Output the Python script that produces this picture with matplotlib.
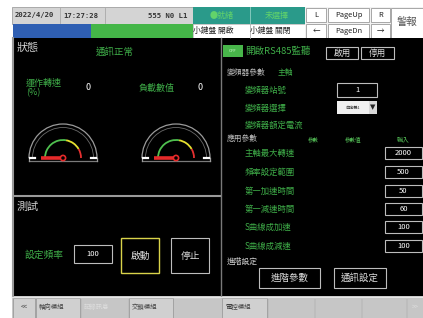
import numpy as np
import matplotlib
matplotlib.use("Agg")
import matplotlib.pyplot as plt
from matplotlib.patches import Rectangle, Arc, Circle

plt.rcParams['font.family'] = ['Noto Sans CJK TC', 'DejaVu Sans']

# ---- screen data ----
status_date = "2022/4/20"
status_time = "17:27:28"
status_code = "555 N0 L1"
comm_state = "通訊正常"
gauge_labels = ["運作轉速\n(%)", "負載數值"]
gauge_values = [0, 0]
drive_labels = ["變頻器站號", "變頻器選擇", "變頻器額定電流"]
drive_station = 1
param_labels = ["主軸最大轉速", "頻率設定範圍", "第一加速時間",
                "第一減速時間", "S曲線成加速", "S曲線成減速"]
param_values = [2000, 500, 50, 60, 100, 100]
test_freq = 100
nav_buttons = ["<<", "軸向模組", "記錄訊息", "交鎖模組", "電控模組", "", "", "", ">>"]
nav_enabled = [True, True, False, True, True, False, False, False, False]

W, H = 423, 318
GREEN = "#3fae49"
LGREEN = "#57c75a"

fig = plt.figure(figsize=(W / 100, H / 100), dpi=100)
ax = fig.add_axes([0, 0, 1, 1])
ax.set_xlim(0, W)
ax.set_ylim(H, 0)   # screen coords, y grows downward
ax.axis("off")
fig.patch.set_facecolor("white")


def box(x, y, w, h, fc="none", ec="none", lw=1.0, z=1):
    ax.add_patch(Rectangle((x, y), w, h, facecolor=fc, edgecolor=ec, lw=lw, zorder=z))


def txt(x, y, s, c="white", fs=6.5, ha="left", **kw):
    ax.text(x, y, s, color=c, fontsize=fs, ha=ha, va="center", zorder=5, **kw)


# ---- header ----
box(12, 7, 181, 17, fc="#d4d4d4", ec="#a0a0a0", lw=0.6)
ax.plot([60, 60], [8, 23], color="#a8a8a8", lw=0.6)
ax.plot([105, 105], [8, 23], color="#a8a8a8", lw=0.6)
mono = dict(family="DejaVu Sans Mono", weight="bold")
txt(15, 15.5, status_date, c="#333333", fs=5.2, **mono)
txt(63, 15.5, status_time, c="#333333", fs=5.2, **mono)
txt(187, 15.5, status_code, c="#333333", fs=5.2, ha="right", **mono)
box(13, 24, 78, 14, fc="#2f5fb3")
box(91, 24, 102, 14, fc="#44b648")
box(193, 7, 112, 17, fc="#2a9a8a")
ax.plot([250, 250], [7, 24], color="#8fcfc4", lw=0.6)
txt(222, 15.5, "●就緒", c="#62d36a", fs=5.8, ha="center")
txt(277, 15.5, "未選擇", c="#62d36a", fs=5.8, ha="center")
box(193, 24, 112, 14, fc="white", ec="#b0b0b0", lw=0.5)
ax.plot([250, 250], [24, 38], color="#b0b0b0", lw=0.6)
txt(193, 31, "小鍵盤 開啟", c="#222222", fs=5.6)
txt(250.5, 31, "小鍵盤 關閉", c="#222222", fs=5.6)
box(305, 7, 118, 31, fc="#f2f2f2")
for x0, w0, top, bot in [(306, 20, "L", "←"), (328, 41, "PageUp", "PageDn"), (371, 19, "R", "→")]:
    box(x0, 8, w0, 14, fc="white", ec="#9a9a9a", lw=0.6)
    box(x0, 24, w0, 14, fc="white", ec="#9a9a9a", lw=0.6)
    txt(x0 + w0 / 2, 15, top, c="#222222", fs=5.4, ha="center")
    txt(x0 + w0 / 2, 31, bot, c="#222222", fs=5.4, ha="center")
box(391, 8, 32, 30, fc="white", ec="#9a9a9a", lw=0.6)
txt(407, 22, "警報", c="#555555", fs=7.5, ha="center")

# ---- main black area ----
box(12, 38, W - 12, 259, fc="black")
ax.plot([13, 13], [38, 297], color="#9a9a9a", lw=1.5)
ax.plot([13, 220], [196, 196], color="#9a9a9a", lw=1.5)
ax.plot([220.5, 220.5], [38, 297], color="#7a7a7a", lw=1.0)

# status panel
txt(17, 48, "狀態", c="#cfcfcf", fs=8)
txt(115, 52, comm_state, c=GREEN, fs=6.8, ha="center")
label_x = [26, 139]
value_x = [86, 198]
gauge_cx = [63, 176]
for lab, val, lx, vx, cx in zip(gauge_labels, gauge_values, label_x, value_x, gauge_cx):
    txt(lx, 88, lab, c=GREEN, fs=6.5, linespacing=1.0)
    txt(vx, 88, str(val), c="white", fs=6.5)
    cy = 158
    # y axis is inverted, so the upper half of a dial is 180..360 degrees
    ax.add_patch(Arc((cx, cy), 68, 68, theta1=180, theta2=360, color="#9a9a9a", lw=0.9))
    ax.add_patch(Arc((cx, cy), 61, 61, theta1=180, theta2=360, color="#6a6a6a", lw=0.6))
    ax.plot([cx - 34, cx + 34], [cy + 3, cy + 3], color="#7a7a7a", lw=0.9)
    ax.plot([cx - 34, cx - 34], [cy, cy + 3], color="#9a9a9a", lw=0.9)
    ax.plot([cx + 34, cx + 34], [cy, cy + 3], color="#9a9a9a", lw=0.9)
    ax.plot([cx - 33, cx - 28], [cy, cy], color="white", lw=1.6)
    ax.plot([cx + 28, cx + 33], [cy, cy], color="white", lw=1.6)
    ax.add_patch(Arc((cx, cy), 36, 36, theta1=180, theta2=280, color="#4fc04f", lw=1.3))
    ax.add_patch(Arc((cx, cy), 36, 36, theta1=280, theta2=330, color="#e6e030", lw=1.3))
    ax.add_patch(Arc((cx, cy), 36, 36, theta1=330, theta2=360, color="#e53030", lw=1.3))
    ang = np.deg2rad(180 - val / 100 * 180)
    ax.plot([cx, cx + 22 * np.cos(ang)], [cy, cy - 22 * np.sin(ang)], color="#e52a2a", lw=2.6,
            solid_capstyle="butt")
    ax.add_patch(Circle((cx, cy), 2.6, facecolor="black", edgecolor="#e52a2a", lw=1.2, zorder=4))

# test panel
txt(17, 207, "測試", c="#cfcfcf", fs=8)
txt(25, 255, "設定頻率", c=GREEN, fs=7)
box(74, 245, 38, 18, ec="#bdbdbd", lw=0.8)
txt(93, 254, str(test_freq), fs=5.5, ha="center")
box(121, 238, 38, 35, ec="#d9d34a", lw=1.0)
txt(140, 256, "啟動", c="#dddddd", fs=7, ha="center")
box(171, 238, 38, 35, ec="#bdbdbd", lw=0.8)
txt(190, 256, "停止", c="#dddddd", fs=7, ha="center")

# right panel
box(223, 45, 20, 12, fc="#48b64a")
txt(233, 51, "OFF", c="#d8ffd8", fs=3, ha="center")
txt(245, 51, "開啟RS485監聽", c=GREEN, fs=6.8)
box(326, 47, 32, 12, ec="#bdbdbd", lw=0.8)
txt(342, 53, "啟用", c="#dddddd", fs=6.2, ha="center")
box(361, 47, 33, 12, ec="#bdbdbd", lw=0.8)
txt(377.5, 53, "停用", c="#dddddd", fs=6.2, ha="center")
txt(227, 73, "變頻器參數", c="#bdbdbd", fs=5.6)
txt(278, 73, "主軸", c=GREEN, fs=5.6)
drive_y = [90, 108, 125]
for lab, y in zip(drive_labels, drive_y):
    txt(245, y, lab, c=GREEN, fs=6)
box(337, 83, 40, 14, ec="#bdbdbd", lw=0.8)
txt(357, 90, str(drive_station), fs=5.5, ha="center")
box(337, 101, 32, 13, fc="#f0f0f0")
box(369, 101, 8, 13, fc="#d8d8d8")
txt(353, 107.5, "自定義1", c="#333333", fs=3, ha="center")
txt(373, 107.5, "▼", c="#222222", fs=5, ha="center", family="DejaVu Sans")
txt(227, 139, "應用參數", c="#bdbdbd", fs=5.6)
txt(313, 139, "參數", c=LGREEN, fs=4, ha="center")
txt(353, 139, "參數值", c=LGREEN, fs=4, ha="center")
txt(403, 139, "輸入", c=LGREEN, fs=4.6, ha="center")
row_y = [153, 172, 191, 209, 227, 246]
for lab, val, y in zip(param_labels, param_values, row_y):
    txt(245, y, lab, c=GREEN, fs=6)
    box(385, y - 6, 37, 12, ec="#bdbdbd", lw=0.8)
    txt(403.5, y, str(val), fs=5.5, ha="center")
txt(227, 262, "進階設定", c="#cfcfcf", fs=5.6)
box(259, 268, 61, 20, ec="#bdbdbd", lw=0.8)
txt(289.5, 278, "進階參數", c="#dddddd", fs=6.8, ha="center")
box(334, 268, 52, 20, ec="#bdbdbd", lw=0.8)
txt(360, 278, "通訊設定", c="#dddddd", fs=6.8, ha="center")

# ---- bottom nav bar ----
box(12, 296, W - 12, 22, fc="#c6c6c6")
ax.plot([12, W], [296.5, 296.5], color="#e6e6e6", lw=1.0)
nav_x = [13, 36, 81, 129, 222, 268, 315, 362, 407]
nav_w = [22, 44, 47, 44, 45, 46, 46, 44, 16]
for lab, on, x0, w0 in zip(nav_buttons, nav_enabled, nav_x, nav_w):
    box(x0, 298, w0, 20, fc="#d0d0d0" if on else "#c6c6c6",
        ec="#9c9c9c" if on else "#bcbcbc", lw=0.6)
    if lab:
        wide = w0 > 30
        txt(x0 + 3 if wide else x0 + w0 / 2, 307, lab, c="#444444" if on else "#dddddd",
            fs=4.6, ha="left" if wide else "center")

fig.savefig("out.png", dpi=100, facecolor="white")
